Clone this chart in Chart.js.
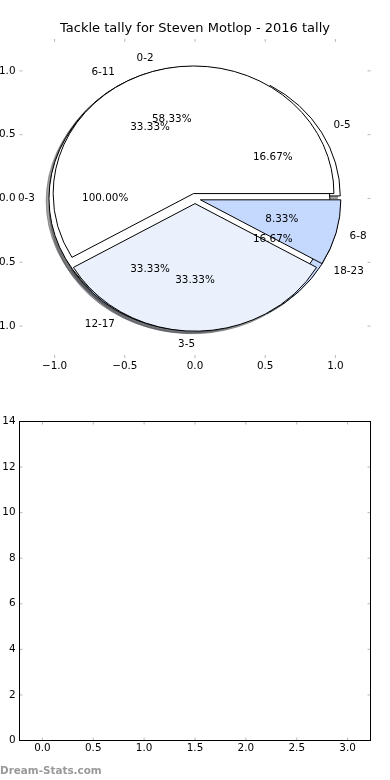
<!DOCTYPE html>
<html><head><meta charset="utf-8">
<script src="https://cdn.jsdelivr.net/npm/chart.js@4.4.1/dist/chart.umd.min.js"></script>
<style>
html,body{margin:0;padding:0;background:#fff;}
#wrap{position:relative;width:390px;height:780px;overflow:hidden;}
canvas{position:absolute;left:0;}
#c1{top:0}
#c2{top:390px}
</style></head><body>
<div id="wrap"><canvas id="c1" width="390" height="390"></canvas><canvas id="c2" width="390" height="390"></canvas></div>
<script>
// ---- data ----
const TITLE = 'Tackle tally for Steven Motlop - 2016 tally';
const PIE_A_LABELS = ['0-3'];
const PIE_A_VALUES = [12];
const PIE_C_LABELS = ['0-5', '6-11', '12-17', '18-23'];
const PIE_C_VALUES = [2, 4, 4, 2];
const PIE_B_LABELS = ['0-2', '3-5', '6-8'];
const PIE_B_VALUES = [7, 4, 1];
const PIE_TICKS = [-1.0, -0.5, 0.0, 0.5, 1.0];
const BAR_X_TICKS = [0.0, 0.5, 1.0, 1.5, 2.0, 2.5, 3.0];
const BAR_Y_TICKS = [0, 2, 4, 6, 8, 10, 12, 14];
const WATERMARK = 'Dream-Stats.com';

// ---- styles ----
const FONT = 'DejaVu Sans';
const PIE_COLORS_A = ['#FFFFFF'];
const PIE_COLORS_B = ['#FFFFFF', '#EAF1FD', '#C5D8FD'];
const PIE_COLORS_C = ['#FFFFFF', '#EAF1FD', '#C5D8FD', '#C5D8FD'];
const EXPLODE = 0.04, LABEL_DIST = 1.1, PCT_DIST = 0.6, SHADOW_OFF = 0.02;
const TICK_COLOR = '#b8b8b8', TICK_LEN = 3;

Chart.defaults.font.family = FONT;

const PIES = [
  {labels: PIE_C_LABELS, values: PIE_C_VALUES, colors: PIE_COLORS_C},
  {labels: PIE_A_LABELS, values: PIE_A_VALUES, colors: PIE_COLORS_A},
  {labels: PIE_B_LABELS, values: PIE_B_VALUES, colors: PIE_COLORS_B}
];

function buildWedges(pie) {
  const total = pie.values.reduce((a, b) => a + b, 0);
  let t1 = 0; const out = [];
  pie.values.forEach((v, i) => {
    const frac = v / total;
    const t2 = t1 + 360 * frac;
    const tm = Math.PI * (t1 + t2) / 360;
    out.push({t1, t2, tm, frac, x: EXPLODE * Math.cos(tm), y: EXPLODE * Math.sin(tm),
      label: pie.labels[i], color: pie.colors[i % pie.colors.length]});
    t1 = t2;
  });
  return out;
}

function wedgePath(ctx, xs, ys, w, dx, dy) {
  const cx = xs.getPixelForValue(w.x + dx), cy = ys.getPixelForValue(w.y + dy);
  const rx = xs.getPixelForValue(1) - xs.getPixelForValue(0);
  const ry = ys.getPixelForValue(0) - ys.getPixelForValue(1);
  ctx.beginPath();
  if (w.t2 - w.t1 >= 360 - 1e-9) {
    ctx.ellipse(cx, cy, rx, ry, 0, 0, 2 * Math.PI);
  } else {
    ctx.moveTo(cx, cy);
    ctx.ellipse(cx, cy, rx, ry, 0, -w.t1 * Math.PI / 180, -w.t2 * Math.PI / 180, true);
  }
  ctx.closePath();
}

function darker(hex) {
  const r = parseInt(hex.slice(1, 3), 16), g = parseInt(hex.slice(3, 5), 16), b = parseInt(hex.slice(5, 7), 16);
  return `rgba(${Math.round(r * 0.3)},${Math.round(g * 0.3)},${Math.round(b * 0.3)},0.5)`;
}

const piePlugin = {
  id: 'mplPies',
  afterDatasetsDraw(chart) {
    const {ctx, scales: {x, y}} = chart;
    const all = PIES.map(buildWedges);
    ctx.save();
    ctx.lineWidth = 1;
    all.forEach(ws => ws.forEach(w => {
      wedgePath(ctx, x, y, w, -SHADOW_OFF, -SHADOW_OFF);
      ctx.fillStyle = darker(w.color); ctx.strokeStyle = darker(w.color);
      ctx.fill(); ctx.stroke();
    }));
    all.forEach(ws => ws.forEach(w => {
      wedgePath(ctx, x, y, w, 0, 0);
      ctx.fillStyle = w.color; ctx.strokeStyle = '#000';
      ctx.fill(); ctx.stroke();
    }));
    ctx.fillStyle = '#000';
    ctx.font = `10.4px "${FONT}"`;
    ctx.textBaseline = 'middle';
    all.forEach(ws => ws.forEach(w => {
      const xt = w.x + LABEL_DIST * Math.cos(w.tm), yt = w.y + LABEL_DIST * Math.sin(w.tm);
      ctx.textAlign = xt > 0 ? 'left' : 'right';
      ctx.fillText(w.label, x.getPixelForValue(xt), y.getPixelForValue(yt));
      const xp = w.x + PCT_DIST * Math.cos(w.tm), yp = w.y + PCT_DIST * Math.sin(w.tm);
      ctx.textAlign = 'center';
      ctx.fillText((w.frac * 100).toFixed(2) + '%', x.getPixelForValue(xp), y.getPixelForValue(yp));
    }));
    ctx.restore();
  }
};

const axesPlugin = {
  id: 'mplAxes',
  afterDraw(chart, args, opts) {
    const {ctx, chartArea: a, scales: {x, y}} = chart;
    ctx.save();
    ctx.strokeStyle = TICK_COLOR; ctx.lineWidth = 1;
    ctx.beginPath();
    x.ticks.forEach(t => {
      const px = x.getPixelForValue(t.value);
      ctx.moveTo(px, a.top); ctx.lineTo(px, a.top + TICK_LEN);
      ctx.moveTo(px, a.bottom); ctx.lineTo(px, a.bottom - TICK_LEN);
    });
    y.ticks.forEach(t => {
      const py = y.getPixelForValue(t.value);
      ctx.moveTo(a.left, py); ctx.lineTo(a.left + TICK_LEN, py);
      ctx.moveTo(a.right, py); ctx.lineTo(a.right - TICK_LEN, py);
    });
    ctx.stroke();
    if (opts.frame) {
      ctx.strokeStyle = '#000'; ctx.lineWidth = 1;
      ctx.strokeRect(a.left, a.top, a.right - a.left, a.bottom - a.top);
    }
    if (opts.watermark) {
      ctx.fillStyle = '#999999';
      ctx.font = `bold 10.4px "${FONT}"`;
      ctx.textAlign = 'left'; ctx.textBaseline = 'alphabetic';
      ctx.fillText(opts.watermark, 0, 384.3);
    }
    ctx.restore();
  }
};

const fmt1 = v => (v < 0 ? '\u2212' : '') + Math.abs(v).toFixed(1);
const tickFont = {family: FONT, size: 10.4};
const noGrid = {display: false, drawTicks: false, tickLength: 0};
// invisible right-hand spacer axis so that the plot is centred like the original
const spacer = (min, max) => ({type: 'linear', position: 'right', min, max,
  grid: noGrid, border: {display: false}, ticks: {display: false},
  afterFit: s => { s.width = 19.5; }});

new Chart(document.getElementById('c1'), {
  type: 'scatter',
  data: {datasets: []},
  options: {
    responsive: false, animation: false, devicePixelRatio: 1,
    layout: {padding: {left: 0, right: 0, top: 0, bottom: 0}},
    plugins: {
      legend: {display: false}, tooltip: {enabled: false},
      title: {display: true, text: TITLE, color: '#000',
        font: {family: FONT, size: 13, weight: 'normal', lineHeight: 1.2},
        padding: {top: 21, bottom: 2.4}},
      mplAxes: {frame: false}
    },
    scales: {
      x: {type: 'linear', min: -1.25, max: 1.25,
        grid: noGrid, border: {display: false},
        afterBuildTicks: s => { s.ticks = PIE_TICKS.map(v => ({value: v})); },
        afterFit: s => { s.height = 32; },
        ticks: {padding: 2, color: '#000', font: tickFont, maxRotation: 0, autoSkip: false, callback: fmt1}},
      y: {type: 'linear', position: 'left', min: -1.25, max: 1.25,
        grid: noGrid, border: {display: false},
        afterBuildTicks: s => { s.ticks = PIE_TICKS.map(v => ({value: v})); },
        afterFit: s => { s.width = 19.5; },
        ticks: {padding: 4, color: '#000', font: tickFont, autoSkip: false, callback: fmt1}},
      yR: spacer(-1.25, 1.25)
    }
  },
  plugins: [piePlugin, axesPlugin]
});

new Chart(document.getElementById('c2'), {
  type: 'scatter',
  data: {datasets: []},
  options: {
    responsive: false, animation: false, devicePixelRatio: 1,
    layout: {padding: {left: 0, right: 0, top: 31.5, bottom: 0}},
    plugins: {
      legend: {display: false}, tooltip: {enabled: false}, title: {display: false},
      mplAxes: {frame: true, watermark: WATERMARK}
    },
    scales: {
      x: {type: 'linear', min: -0.225, max: 3.225,
        grid: noGrid, border: {display: false},
        afterBuildTicks: s => { s.ticks = BAR_X_TICKS.map(v => ({value: v})); },
        afterFit: s => { s.height = 39.5; },
        ticks: {padding: 2, color: '#000', font: tickFont, maxRotation: 0, autoSkip: false, callback: fmt1}},
      y: {type: 'linear', position: 'left', min: 0, max: 14,
        grid: noGrid, border: {display: false},
        afterBuildTicks: s => { s.ticks = BAR_Y_TICKS.map(v => ({value: v})); },
        afterFit: s => { s.width = 19.5; },
        ticks: {padding: 4, color: '#000', font: tickFont, autoSkip: false, callback: v => String(v)}},
      yR: spacer(0, 14)
    }
  },
  plugins: [axesPlugin]
});
</script>
</body></html>
